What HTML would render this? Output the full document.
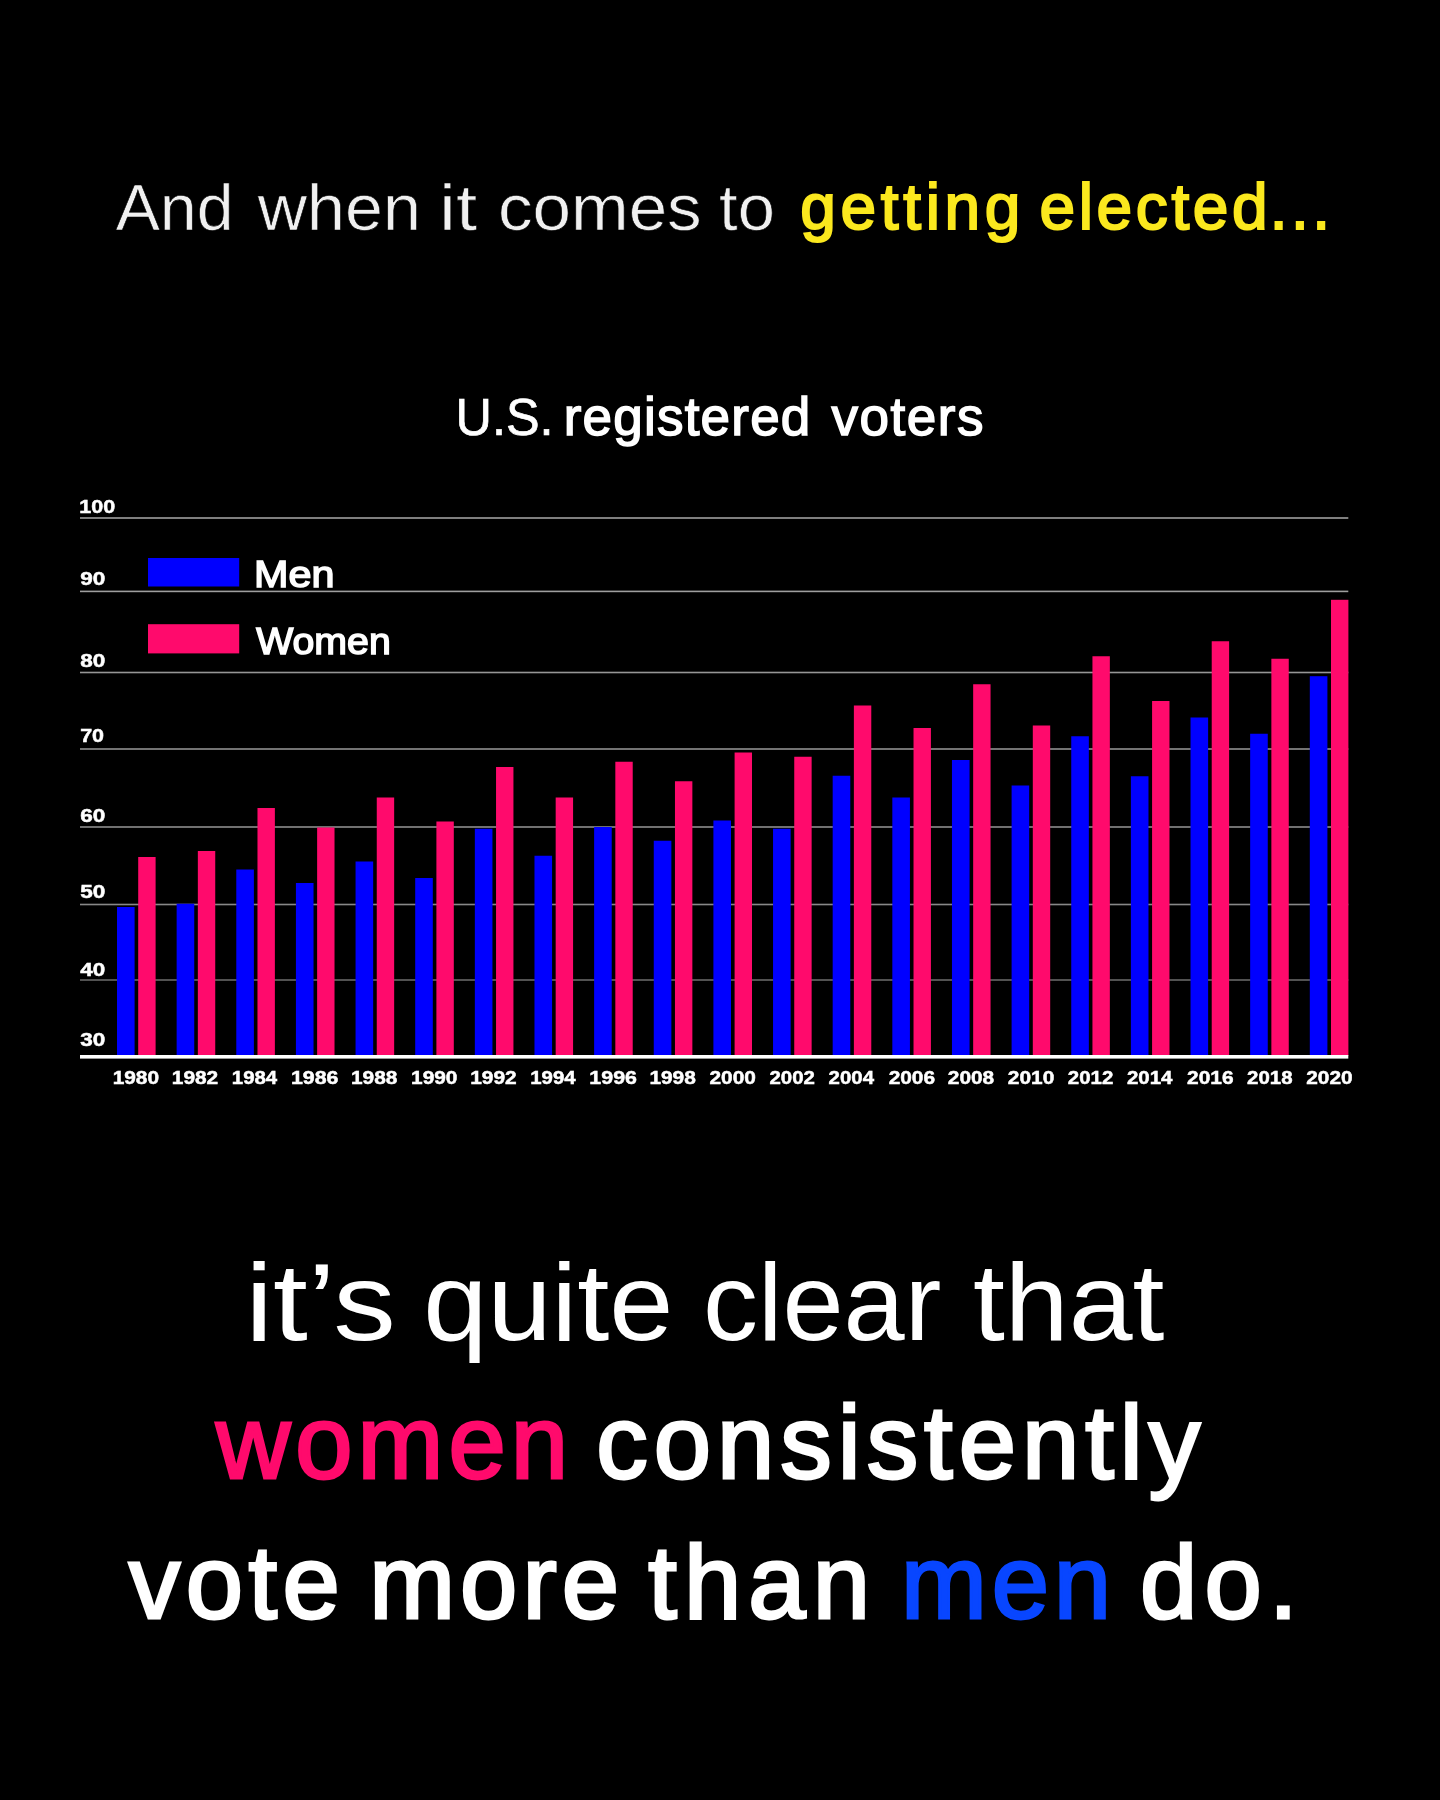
<!DOCTYPE html>
<html lang="en"><head><meta charset="utf-8"><title>U.S. registered voters</title>
<style>html,body{margin:0;padding:0;background:#000;}body{width:1440px;height:1800px;overflow:hidden;}svg{display:block;will-change:transform;}text{font-family:"Liberation Sans", sans-serif;}</style></head><body>
<svg width="1440" height="1800" viewBox="0 0 1440 1800">
<rect width="1440" height="1800" fill="#000"/>
<rect x="80" y="517.2" width="1268.3" height="1.6" fill="#9e9e9e"/>
<rect x="80" y="590.6" width="1268.3" height="1.6" fill="#9e9e9e"/>
<rect x="80" y="671.7" width="1268.3" height="1.6" fill="#969696"/>
<rect x="80" y="748.2" width="1268.3" height="1.6" fill="#909090"/>
<rect x="80" y="826.2" width="1268.3" height="1.6" fill="#8c8c8c"/>
<rect x="80" y="903.7" width="1268.3" height="1.6" fill="#888"/>
<rect x="80" y="979.2" width="1268.3" height="1.6" fill="#666"/>
<rect x="148" y="558" width="91.2" height="28.5" fill="#0000ff"/>
<rect x="148" y="624.2" width="91.2" height="29.2" fill="#ff0a6c"/>
<rect x="117.00" y="907.00" width="17.6" height="149.00" fill="#0000ff"/><rect x="138.20" y="857.00" width="17.4" height="199.00" fill="#ff0a6c"/>
<rect x="176.64" y="903.75" width="17.6" height="152.25" fill="#0000ff"/><rect x="197.84" y="851.00" width="17.4" height="205.00" fill="#ff0a6c"/>
<rect x="236.28" y="869.50" width="17.6" height="186.50" fill="#0000ff"/><rect x="257.48" y="808.00" width="17.4" height="248.00" fill="#ff0a6c"/>
<rect x="295.92" y="883.00" width="17.6" height="173.00" fill="#0000ff"/><rect x="317.12" y="827.50" width="17.4" height="228.50" fill="#ff0a6c"/>
<rect x="355.56" y="861.50" width="17.6" height="194.50" fill="#0000ff"/><rect x="376.76" y="797.50" width="17.4" height="258.50" fill="#ff0a6c"/>
<rect x="415.20" y="878.00" width="17.6" height="178.00" fill="#0000ff"/><rect x="436.40" y="821.50" width="17.4" height="234.50" fill="#ff0a6c"/>
<rect x="474.84" y="828.75" width="17.6" height="227.25" fill="#0000ff"/><rect x="496.04" y="767.00" width="17.4" height="289.00" fill="#ff0a6c"/>
<rect x="534.48" y="855.75" width="17.6" height="200.25" fill="#0000ff"/><rect x="555.68" y="797.50" width="17.4" height="258.50" fill="#ff0a6c"/>
<rect x="594.12" y="827.00" width="17.6" height="229.00" fill="#0000ff"/><rect x="615.32" y="761.75" width="17.4" height="294.25" fill="#ff0a6c"/>
<rect x="653.76" y="840.75" width="17.6" height="215.25" fill="#0000ff"/><rect x="674.96" y="781.25" width="17.4" height="274.75" fill="#ff0a6c"/>
<rect x="713.40" y="820.50" width="17.6" height="235.50" fill="#0000ff"/><rect x="734.60" y="752.50" width="17.4" height="303.50" fill="#ff0a6c"/>
<rect x="773.04" y="828.75" width="17.6" height="227.25" fill="#0000ff"/><rect x="794.24" y="756.75" width="17.4" height="299.25" fill="#ff0a6c"/>
<rect x="832.68" y="775.75" width="17.6" height="280.25" fill="#0000ff"/><rect x="853.88" y="705.50" width="17.4" height="350.50" fill="#ff0a6c"/>
<rect x="892.32" y="797.50" width="17.6" height="258.50" fill="#0000ff"/><rect x="913.52" y="728.00" width="17.4" height="328.00" fill="#ff0a6c"/>
<rect x="951.96" y="760.00" width="17.6" height="296.00" fill="#0000ff"/><rect x="973.16" y="684.25" width="17.4" height="371.75" fill="#ff0a6c"/>
<rect x="1011.60" y="785.50" width="17.6" height="270.50" fill="#0000ff"/><rect x="1032.80" y="725.50" width="17.4" height="330.50" fill="#ff0a6c"/>
<rect x="1071.24" y="736.25" width="17.6" height="319.75" fill="#0000ff"/><rect x="1092.44" y="656.25" width="17.4" height="399.75" fill="#ff0a6c"/>
<rect x="1130.88" y="776.25" width="17.6" height="279.75" fill="#0000ff"/><rect x="1152.08" y="701.00" width="17.4" height="355.00" fill="#ff0a6c"/>
<rect x="1190.52" y="717.50" width="17.6" height="338.50" fill="#0000ff"/><rect x="1211.72" y="641.25" width="17.4" height="414.75" fill="#ff0a6c"/>
<rect x="1250.16" y="733.75" width="17.6" height="322.25" fill="#0000ff"/><rect x="1271.36" y="658.75" width="17.4" height="397.25" fill="#ff0a6c"/>
<rect x="1309.80" y="676.20" width="17.6" height="379.80" fill="#0000ff"/><rect x="1331.00" y="599.80" width="17.4" height="456.20" fill="#ff0a6c"/>
<rect x="80" y="1055" width="1268.3" height="3.6" fill="#fff"/>
<text x="115.65" y="230.3" font-size="65.5" fill="#f0f0f0" textLength="117.82" lengthAdjust="spacingAndGlyphs" stroke="#000" stroke-width="0.6" stroke-linejoin="miter">And</text>
<text x="257.85" y="230.3" font-size="65.5" fill="#f0f0f0" textLength="162.96" lengthAdjust="spacingAndGlyphs" stroke="#000" stroke-width="0.6" stroke-linejoin="miter">when</text>
<text x="439.00" y="230.3" font-size="65.5" fill="#f0f0f0" textLength="38.19" lengthAdjust="spacingAndGlyphs" stroke="#000" stroke-width="0.6" stroke-linejoin="miter">it</text>
<text x="497.95" y="230.3" font-size="65.5" fill="#f0f0f0" textLength="203.78" lengthAdjust="spacingAndGlyphs" stroke="#000" stroke-width="0.6" stroke-linejoin="miter">comes</text>
<text x="719.10" y="230.3" font-size="65.5" fill="#f0f0f0" textLength="55.79" lengthAdjust="spacingAndGlyphs" stroke="#000" stroke-width="0.6" stroke-linejoin="miter">to</text>
<text x="800.35" y="229.4" font-size="64" fill="#fbe81e" textLength="220.00" lengthAdjust="spacing" stroke="#fbe81e" stroke-width="2.0" stroke-linejoin="miter">getting</text>
<text x="1039.60" y="229.4" font-size="64" fill="#fbe81e" textLength="228.00" lengthAdjust="spacing" stroke="#fbe81e" stroke-width="2.0" stroke-linejoin="miter">elected</text>
<text x="1269.75" y="229.4" font-size="64" fill="#fbe81e" textLength="60.40" lengthAdjust="spacing" stroke="#fbe81e" stroke-width="2.0" stroke-linejoin="miter">...</text>
<text x="455.60" y="435" font-size="52" fill="#fff" textLength="97.95" lengthAdjust="spacingAndGlyphs" stroke="#fff" stroke-width="0.7" stroke-linejoin="miter">U.S.</text>
<text x="563.70" y="435.2" font-size="53" fill="#fff" textLength="246.60" lengthAdjust="spacing" stroke="#fff" stroke-width="1.5" stroke-linejoin="miter">registered</text>
<text x="831.45" y="435.2" font-size="53" fill="#fff" textLength="152.00" lengthAdjust="spacing" stroke="#fff" stroke-width="1.5" stroke-linejoin="miter">voters</text>
<text x="79.30" y="513" font-size="18.6" fill="#fff" font-weight="bold" textLength="35.84" lengthAdjust="spacingAndGlyphs" stroke="#fff" stroke-width="0.5" stroke-linejoin="miter">100</text>
<text x="80.20" y="585" font-size="18.6" fill="#fff" font-weight="bold" textLength="25.07" lengthAdjust="spacingAndGlyphs" stroke="#fff" stroke-width="0.5" stroke-linejoin="miter">90</text>
<text x="80.20" y="667.4" font-size="18.6" fill="#fff" font-weight="bold" textLength="25.07" lengthAdjust="spacingAndGlyphs" stroke="#fff" stroke-width="0.5" stroke-linejoin="miter">80</text>
<text x="80.20" y="742.4" font-size="18.6" fill="#fff" font-weight="bold" textLength="23.87" lengthAdjust="spacingAndGlyphs" stroke="#fff" stroke-width="0.5" stroke-linejoin="miter">70</text>
<text x="80.20" y="822.2" font-size="18.6" fill="#fff" font-weight="bold" textLength="25.07" lengthAdjust="spacingAndGlyphs" stroke="#fff" stroke-width="0.5" stroke-linejoin="miter">60</text>
<text x="80.20" y="898" font-size="18.6" fill="#fff" font-weight="bold" textLength="25.07" lengthAdjust="spacingAndGlyphs" stroke="#fff" stroke-width="0.5" stroke-linejoin="miter">50</text>
<text x="80.20" y="975.75" font-size="18.6" fill="#fff" font-weight="bold" textLength="24.90" lengthAdjust="spacingAndGlyphs" stroke="#fff" stroke-width="0.5" stroke-linejoin="miter">40</text>
<text x="80.20" y="1046.25" font-size="18.6" fill="#fff" font-weight="bold" textLength="25.03" lengthAdjust="spacingAndGlyphs" stroke="#fff" stroke-width="0.5" stroke-linejoin="miter">30</text>
<text x="254.05" y="587.0" font-size="37.3" fill="#fff" textLength="80.44" lengthAdjust="spacingAndGlyphs" stroke="#fff" stroke-width="1.5" stroke-linejoin="miter">Men</text>
<text x="256.15" y="653.8" font-size="37.3" fill="#fff" textLength="134.61" lengthAdjust="spacingAndGlyphs" stroke="#fff" stroke-width="1.5" stroke-linejoin="miter">Women</text>
<text x="112.65" y="1083.8" font-size="19" fill="#fff" font-weight="bold" textLength="46.45" lengthAdjust="spacingAndGlyphs" stroke="#fff" stroke-width="0.5" stroke-linejoin="miter">1980</text>
<text x="171.79" y="1083.8" font-size="19" fill="#fff" font-weight="bold" textLength="46.45" lengthAdjust="spacingAndGlyphs" stroke="#fff" stroke-width="0.5" stroke-linejoin="miter">1982</text>
<text x="231.83" y="1083.8" font-size="19" fill="#fff" font-weight="bold" textLength="45.41" lengthAdjust="spacingAndGlyphs" stroke="#fff" stroke-width="0.5" stroke-linejoin="miter">1984</text>
<text x="290.97" y="1083.8" font-size="19" fill="#fff" font-weight="bold" textLength="47.50" lengthAdjust="spacingAndGlyphs" stroke="#fff" stroke-width="0.5" stroke-linejoin="miter">1986</text>
<text x="351.01" y="1083.8" font-size="19" fill="#fff" font-weight="bold" textLength="46.47" lengthAdjust="spacingAndGlyphs" stroke="#fff" stroke-width="0.5" stroke-linejoin="miter">1988</text>
<text x="411.05" y="1083.8" font-size="19" fill="#fff" font-weight="bold" textLength="46.45" lengthAdjust="spacingAndGlyphs" stroke="#fff" stroke-width="0.5" stroke-linejoin="miter">1990</text>
<text x="470.19" y="1083.8" font-size="19" fill="#fff" font-weight="bold" textLength="46.45" lengthAdjust="spacingAndGlyphs" stroke="#fff" stroke-width="0.5" stroke-linejoin="miter">1992</text>
<text x="530.23" y="1083.8" font-size="19" fill="#fff" font-weight="bold" textLength="45.41" lengthAdjust="spacingAndGlyphs" stroke="#fff" stroke-width="0.5" stroke-linejoin="miter">1994</text>
<text x="589.37" y="1083.8" font-size="19" fill="#fff" font-weight="bold" textLength="47.55" lengthAdjust="spacingAndGlyphs" stroke="#fff" stroke-width="0.5" stroke-linejoin="miter">1996</text>
<text x="649.41" y="1083.8" font-size="19" fill="#fff" font-weight="bold" textLength="46.45" lengthAdjust="spacingAndGlyphs" stroke="#fff" stroke-width="0.5" stroke-linejoin="miter">1998</text>
<text x="709.45" y="1083.8" font-size="19" fill="#fff" font-weight="bold" textLength="46.42" lengthAdjust="spacingAndGlyphs" stroke="#fff" stroke-width="0.5" stroke-linejoin="miter">2000</text>
<text x="769.49" y="1083.8" font-size="19" fill="#fff" font-weight="bold" textLength="45.44" lengthAdjust="spacingAndGlyphs" stroke="#fff" stroke-width="0.5" stroke-linejoin="miter">2002</text>
<text x="828.63" y="1083.8" font-size="19" fill="#fff" font-weight="bold" textLength="45.41" lengthAdjust="spacingAndGlyphs" stroke="#fff" stroke-width="0.5" stroke-linejoin="miter">2004</text>
<text x="888.67" y="1083.8" font-size="19" fill="#fff" font-weight="bold" textLength="46.42" lengthAdjust="spacingAndGlyphs" stroke="#fff" stroke-width="0.5" stroke-linejoin="miter">2006</text>
<text x="947.81" y="1083.8" font-size="19" fill="#fff" font-weight="bold" textLength="46.42" lengthAdjust="spacingAndGlyphs" stroke="#fff" stroke-width="0.5" stroke-linejoin="miter">2008</text>
<text x="1007.85" y="1083.8" font-size="19" fill="#fff" font-weight="bold" textLength="46.47" lengthAdjust="spacingAndGlyphs" stroke="#fff" stroke-width="0.5" stroke-linejoin="miter">2010</text>
<text x="1067.89" y="1083.8" font-size="19" fill="#fff" font-weight="bold" textLength="45.41" lengthAdjust="spacingAndGlyphs" stroke="#fff" stroke-width="0.5" stroke-linejoin="miter">2012</text>
<text x="1127.03" y="1083.8" font-size="19" fill="#fff" font-weight="bold" textLength="45.44" lengthAdjust="spacingAndGlyphs" stroke="#fff" stroke-width="0.5" stroke-linejoin="miter">2014</text>
<text x="1187.07" y="1083.8" font-size="19" fill="#fff" font-weight="bold" textLength="46.45" lengthAdjust="spacingAndGlyphs" stroke="#fff" stroke-width="0.5" stroke-linejoin="miter">2016</text>
<text x="1247.11" y="1083.8" font-size="19" fill="#fff" font-weight="bold" textLength="45.41" lengthAdjust="spacingAndGlyphs" stroke="#fff" stroke-width="0.5" stroke-linejoin="miter">2018</text>
<text x="1306.25" y="1083.8" font-size="19" fill="#fff" font-weight="bold" textLength="46.42" lengthAdjust="spacingAndGlyphs" stroke="#fff" stroke-width="0.5" stroke-linejoin="miter">2020</text>
<text x="245.15" y="1340" font-size="108.5" fill="#fff" textLength="150.71" lengthAdjust="spacingAndGlyphs">it’s</text>
<text x="423.35" y="1340" font-size="108.5" fill="#fff" textLength="250.02" lengthAdjust="spacingAndGlyphs">quite</text>
<text x="703.10" y="1340" font-size="108.5" fill="#fff" textLength="238.16" lengthAdjust="spacingAndGlyphs">clear</text>
<text x="972.95" y="1340" font-size="108.5" fill="#fff" textLength="191.44" lengthAdjust="spacingAndGlyphs">that</text>
<text x="215.95" y="1478.2" font-size="103" fill="#ff0a6c" textLength="352.00" lengthAdjust="spacing" stroke="#ff0a6c" stroke-width="2.9" stroke-linejoin="miter">women</text>
<text x="596.35" y="1478.2" font-size="103" fill="#fff" textLength="603.80" lengthAdjust="spacing" stroke="#fff" stroke-width="2.9" stroke-linejoin="miter">consistently</text>
<text x="128.85" y="1618.3" font-size="103" fill="#fff" textLength="211.00" lengthAdjust="spacing" stroke="#fff" stroke-width="2.9" stroke-linejoin="miter">vote</text>
<text x="369.20" y="1618.3" font-size="103" fill="#fff" textLength="249.90" lengthAdjust="spacing" stroke="#fff" stroke-width="2.9" stroke-linejoin="miter">more</text>
<text x="648.20" y="1618.3" font-size="103" fill="#fff" textLength="221.80" lengthAdjust="spacing" stroke="#fff" stroke-width="2.9" stroke-linejoin="miter">than</text>
<text x="900.95" y="1618.3" font-size="103" fill="#0846ff" textLength="210.20" lengthAdjust="spacing" stroke="#0846ff" stroke-width="2.9" stroke-linejoin="miter">men</text>
<text x="1139.90" y="1618.3" font-size="103" fill="#fff" textLength="157.80" lengthAdjust="spacing" stroke="#fff" stroke-width="2.9" stroke-linejoin="miter">do.</text>
</svg></body></html>
